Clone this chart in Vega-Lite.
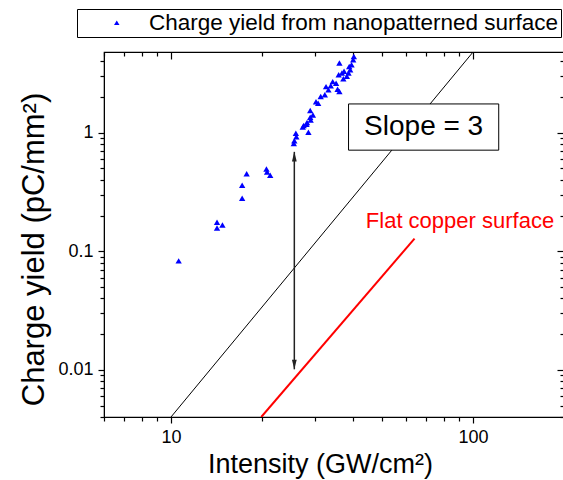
{
  "$schema": "https://vega.github.io/schema/vega-lite/v6.json",
  "width": 460,
  "height": 365,
  "autosize": "none",
  "padding": {"left": 104, "top": 52, "right": 0, "bottom": 63},
  "background": "white",
  "config": {
    "font": "Liberation Sans",
    "view": {"stroke": "black", "strokeWidth": 1.2},
    "axis": {"grid": false, "ticks": true, "tickWidth": 1.2, "tickOpacity": 1, "domainColor": "black", "tickColor": "black", "labelColor": "black", "titleColor": "black", "labelFont": "Liberation Sans", "titleFont": "Liberation Sans", "titleFontWeight": "normal", "labelOverlap": false, "labelBound": false, "labelFlush": false}
  },
  "datasets": {
    "points": [
      {"intensity": 10.6, "charge": 0.083},
      {"intensity": 14.2, "charge": 0.176},
      {"intensity": 14.8, "charge": 0.167},
      {"intensity": 14.2, "charge": 0.157},
      {"intensity": 17.2, "charge": 0.36},
      {"intensity": 17.2, "charge": 0.28},
      {"intensity": 17.8, "charge": 0.45},
      {"intensity": 20.7, "charge": 0.495},
      {"intensity": 20.8, "charge": 0.467},
      {"intensity": 21.3, "charge": 0.438},
      {"intensity": 25.6, "charge": 0.855},
      {"intensity": 25.5, "charge": 0.813},
      {"intensity": 25.9, "charge": 0.99},
      {"intensity": 26.0, "charge": 0.925},
      {"intensity": 28.5, "charge": 1.01},
      {"intensity": 27.5, "charge": 1.15},
      {"intensity": 28.2, "charge": 1.22},
      {"intensity": 29.0, "charge": 1.28},
      {"intensity": 27.3, "charge": 1.12},
      {"intensity": 28.1, "charge": 1.18},
      {"intensity": 28.9, "charge": 1.35},
      {"intensity": 29.5, "charge": 1.41},
      {"intensity": 28.9, "charge": 1.54},
      {"intensity": 30.2, "charge": 1.83},
      {"intensity": 30.7, "charge": 1.77},
      {"intensity": 31.3, "charge": 2.02},
      {"intensity": 32.3, "charge": 2.09},
      {"intensity": 33.2, "charge": 2.3},
      {"intensity": 32.6, "charge": 2.45},
      {"intensity": 33.8, "charge": 2.49},
      {"intensity": 34.3, "charge": 2.7},
      {"intensity": 35.2, "charge": 2.62},
      {"intensity": 35.6, "charge": 2.33},
      {"intensity": 36.1, "charge": 2.23},
      {"intensity": 35.9, "charge": 3.08},
      {"intensity": 36.8, "charge": 3.19},
      {"intensity": 37.2, "charge": 2.85},
      {"intensity": 38.2, "charge": 3.0},
      {"intensity": 38.7, "charge": 3.19},
      {"intensity": 39.2, "charge": 3.4},
      {"intensity": 39.6, "charge": 3.75},
      {"intensity": 40.1, "charge": 4.13},
      {"intensity": 40.3, "charge": 4.4},
      {"intensity": 36.1, "charge": 3.87},
      {"intensity": 38.9, "charge": 3.62},
      {"intensity": 37.4, "charge": 3.3}
    ],
    "slope": [
      {"intensity": 10, "charge": 0.004},
      {"intensity": 100, "charge": 4.8}
    ],
    "flat": [
      {"intensity": 19.9, "charge": 0.004},
      {"intensity": 64, "charge": 0.128}
    ],
    "arrow": [{"intensity": 25.6, "low": 0.0101, "high": 0.69}],
    "box": [{"x1": 38.7, "x2": 121.6, "y1": 0.713, "y2": 1.75, "xc": 68.6, "yc": 1.117, "label": "Slope = 3"}],
    "flatLabel": [{"intensity": 90.5, "charge": 0.158, "label": "Flat copper surface"}]
  },
  "layer": [
    {
      "data": {"name": "slope"},
      "mark": {"type": "line", "color": "black", "strokeWidth": 1, "clip": true},
      "encoding": {
        "x": {"field": "intensity", "type": "quantitative",
          "scale": {"type": "log", "domain": [6, 200], "nice": false},
          "axis": {"orient": "bottom", "values": [6, 7, 8, 9, 10, 20, 30, 40, 50, 60, 70, 80, 90, 100, 200],
            "labelExpr": "datum.value == 10 || datum.value == 100 ? datum.label : ''",
            "format": "~g", "labelFontSize": 18, "labelPadding": 5,
            "tickSize": {"condition": {"test": "datum.value == 10 || datum.value == 100", "value": 6}, "value": 4},
            "title": "Intensity (GW/cm²)", "titleFontSize": 27, "titleX": 216, "titleY": 55, "titleBaseline": "alphabetic", "titleAlign": "center"}},
        "y": {"field": "charge", "type": "quantitative",
          "scale": {"type": "log", "domain": [0.004, 4.8], "nice": false},
          "axis": {"orient": "left", "values": [0.004, 0.005, 0.006, 0.007, 0.008, 0.009, 0.01, 0.02, 0.03, 0.04, 0.05, 0.06, 0.07, 0.08, 0.09, 0.1, 0.2, 0.3, 0.4, 0.5, 0.6, 0.7, 0.8, 0.9, 1, 2, 3, 4],
            "labelExpr": "datum.value == 0.01 || datum.value == 0.1 || datum.value == 1 ? datum.label : ''",
            "format": "~g", "labelFontSize": 18, "labelPadding": 5,
            "tickSize": {"condition": {"test": "datum.value == 0.01 || datum.value == 0.1 || datum.value == 1", "value": 6}, "value": 4},
            "title": "Charge yield (pC/mm²)", "titleFontSize": 31, "titleAngle": 270, "titleX": -61, "titleY": 197, "titleBaseline": "alphabetic", "titleAlign": "center"}}
      }
    },
    {
      "data": {"name": "flat"},
      "mark": {"type": "line", "color": "#ff0000", "strokeWidth": 2, "clip": true},
      "encoding": {
        "x": {"field": "intensity", "type": "quantitative",
          "scale": {"type": "log", "domain": [6, 200], "nice": false},
          "axis": {"orient": "top", "values": [6, 7, 8, 9, 10, 20, 30, 40, 50, 60, 70, 80, 90, 100, 200], "labels": false, "domain": false, "title": null,
            "tickSize": {"condition": {"test": "datum.value == 10 || datum.value == 100", "value": -7}, "value": -4}}},
        "y": {"field": "charge", "type": "quantitative",
          "scale": {"type": "log", "domain": [0.004, 4.8], "nice": false},
          "axis": {"orient": "right", "values": [0.004, 0.005, 0.006, 0.007, 0.008, 0.009, 0.01, 0.02, 0.03, 0.04, 0.05, 0.06, 0.07, 0.08, 0.09, 0.1, 0.2, 0.3, 0.4, 0.5, 0.6, 0.7, 0.8, 0.9, 1, 2, 3, 4], "labels": false, "domain": false, "title": null,
            "tickSize": {"condition": {"test": "datum.value == 0.01 || datum.value == 0.1 || datum.value == 1", "value": -7}, "value": -4}}}
      }
    },
    {
      "data": {"name": "box"},
      "mark": {"type": "rect", "fill": "white", "stroke": "black", "strokeWidth": 1},
      "encoding": {
        "x": {"field": "x1", "type": "quantitative", "scale": {"type": "log", "domain": [6, 200], "nice": false}, "axis": null},
        "x2": {"field": "x2"},
        "y": {"field": "y1", "type": "quantitative", "scale": {"type": "log", "domain": [0.004, 4.8], "nice": false}, "axis": null},
        "y2": {"field": "y2"}
      }
    },
    {
      "data": {"name": "box"},
      "mark": {"type": "text", "fontSize": 28, "align": "center", "baseline": "middle", "color": "black", "font": "Liberation Sans"},
      "encoding": {
        "x": {"field": "xc", "type": "quantitative", "scale": {"type": "log", "domain": [6, 200], "nice": false}, "axis": null},
        "y": {"field": "yc", "type": "quantitative", "scale": {"type": "log", "domain": [0.004, 4.8], "nice": false}, "axis": null},
        "text": {"field": "label"}
      }
    },
    {
      "data": {"name": "flatLabel"},
      "mark": {"type": "text", "fontSize": 22, "align": "center", "baseline": "alphabetic", "color": "#ff0000", "font": "Liberation Sans"},
      "encoding": {
        "x": {"field": "intensity", "type": "quantitative", "scale": {"type": "log", "domain": [6, 200], "nice": false}, "axis": null},
        "y": {"field": "charge", "type": "quantitative", "scale": {"type": "log", "domain": [0.004, 4.8], "nice": false}, "axis": null},
        "text": {"field": "label"}
      }
    },
    {
      "data": {"name": "arrow"},
      "mark": {"type": "rule", "color": "#222222", "strokeWidth": 1.5},
      "encoding": {
        "x": {"field": "intensity", "type": "quantitative", "scale": {"type": "log", "domain": [6, 200], "nice": false}, "axis": null},
        "y": {"field": "low", "type": "quantitative", "scale": {"type": "log", "domain": [0.004, 4.8], "nice": false}, "axis": null},
        "y2": {"field": "high"}
      }
    },
    {
      "data": {"name": "arrow"},
      "mark": {"type": "point", "shape": "M0,0L-0.6,2.4L0.6,2.4Z", "size": 64, "filled": true, "color": "#222222", "opacity": 1, "strokeWidth": 0},
      "encoding": {
        "x": {"field": "intensity", "type": "quantitative", "scale": {"type": "log", "domain": [6, 200], "nice": false}, "axis": null},
        "y": {"field": "high", "type": "quantitative", "scale": {"type": "log", "domain": [0.004, 4.8], "nice": false}, "axis": null}
      }
    },
    {
      "data": {"name": "arrow"},
      "mark": {"type": "point", "shape": "M0,0L-0.6,-2.4L0.6,-2.4Z", "size": 64, "filled": true, "color": "#222222", "opacity": 1, "strokeWidth": 0},
      "encoding": {
        "x": {"field": "intensity", "type": "quantitative", "scale": {"type": "log", "domain": [6, 200], "nice": false}, "axis": null},
        "y": {"field": "low", "type": "quantitative", "scale": {"type": "log", "domain": [0.004, 4.8], "nice": false}, "axis": null}
      }
    },
    {
      "data": {"name": "points"},
      "mark": {"type": "point", "shape": "triangle-up", "size": 40, "filled": true, "opacity": 1, "strokeWidth": 0},
      "encoding": {
        "x": {"field": "intensity", "type": "quantitative", "scale": {"type": "log", "domain": [6, 200], "nice": false}, "axis": null},
        "y": {"field": "charge", "type": "quantitative", "scale": {"type": "log", "domain": [0.004, 4.8], "nice": false}, "axis": null},
        "color": {"datum": "Charge yield from nanopatterned surface", "type": "nominal",
          "scale": {"range": ["#0000ff"]},
          "legend": {"orient": "none", "legendX": -27, "legendY": -43, "title": null,
            "strokeColor": "black", "fillColor": "white", "padding": 2.5,
            "symbolType": "triangle-up", "symbolSize": 30, "symbolOffset": 26, "symbolStrokeWidth": 0,
            "labelFontSize": 22.5, "labelFont": "Liberation Sans", "labelColor": "black", "labelOffset": 21, "labelLimit": 0}}
      }
    }
  ],
  "resolve": {"axis": {"x": "independent", "y": "independent"}}
}
